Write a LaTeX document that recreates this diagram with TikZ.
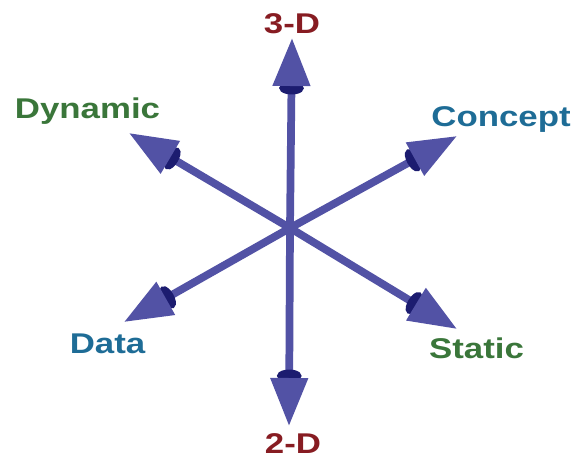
\documentclass[tikz,border=0pt]{standalone}
\usepackage{fontspec}
\setsansfont{Liberation Sans}
\usetikzlibrary{arrows.meta}

\definecolor{shaftblue}{RGB}{82,82,165}
\definecolor{collarblue}{RGB}{28,28,112}
\definecolor{dimred}{RGB}{135,28,34}
\definecolor{dimgreen}{RGB}{58,118,58}
\definecolor{dimblue}{RGB}{30,108,150}

\tikzset{
    axis/.style={line width=5.5pt, shaftblue,
        -{Ellipse[length=9pt,width=17pt,color=collarblue,sep=-3pt] Triangle[length=1.2cm,width=0.9cm,color=shaftblue]}},
    dimlabel/.style={anchor=base, xscale=1.22, font=\sffamily\bfseries\fontsize{20.3}{24}\selectfont}
}

\begin{document}
\begin{tikzpicture}[x=0.025cm, y=-0.025cm]
    \useasboundingbox (0,0) rectangle (576,462);

    \coordinate (o) at (290,228);
    \coordinate (up) at (292,38);
    \coordinate (down) at (289,426);
    \coordinate (dyn) at (129,133);
    \coordinate (con) at (457,136);
    \coordinate (dat) at (124,322);
    \coordinate (sta) at (457,329);

    \draw[axis] (o) -- (up);
    \draw[axis] (o) -- (down);
    \draw[axis] (o) -- (dyn);
    \draw[axis] (o) -- (con);
    \draw[axis] (o) -- (dat);
    \draw[axis] (o) -- (sta);

    \node[dimlabel, dimred] (l3d) at (292,33) {3-D};
    \node[dimlabel, dimred] (l2d) at (293,453) {2-D};
    \node[dimlabel, dimgreen] (ldyn) at (87.5,118) {Dynamic};
    \node[dimlabel, dimblue] (lcon) at (501,126) {Concept};
    \node[dimlabel, dimblue] (ldat) at (107.5,353) {Data};
    \node[dimlabel, dimgreen] (lsta) at (476.5,358) {Static};
\end{tikzpicture}
\end{document}
